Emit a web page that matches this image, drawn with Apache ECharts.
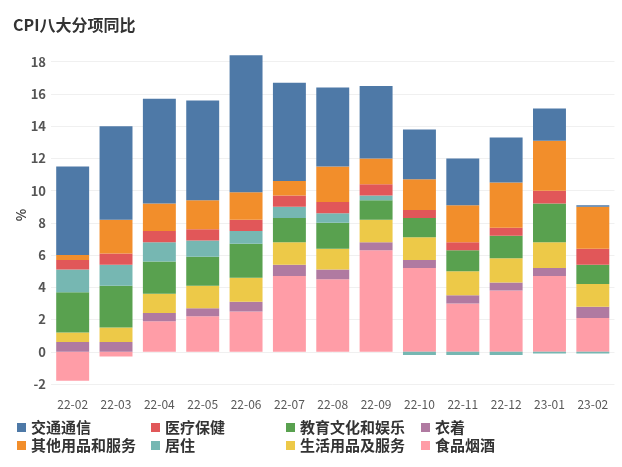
<!DOCTYPE html>
<html>
<head>
<meta charset="utf-8">
<script src="https://cdn.jsdelivr.net/npm/echarts@6/dist/echarts.min.js"></script>
<style>
html,body{margin:0;padding:0;background:#fff;}
#c{width:622px;height:467px;}
</style>
</head>
<body>
<div id="c"></div>
<script>
var months = ['22-02','22-03','22-04','22-05','22-06','22-07','22-08','22-09','22-10','22-11','22-12','23-01','23-02'];
var food      = [-1.8, -0.3, 1.9, 2.2, 2.5, 4.7, 4.5, 6.3, 5.2, 3.0, 3.8, 4.7, 2.1];
var clothing  = [0.6, 0.6, 0.5, 0.5, 0.6, 0.7, 0.6, 0.5, 0.5, 0.5, 0.5, 0.5, 0.7];
var household = [0.6, 0.9, 1.2, 1.4, 1.5, 1.4, 1.3, 1.4, 1.4, 1.5, 1.5, 1.6, 1.4];
var education = [2.5, 2.6, 2.0, 1.8, 2.1, 1.5, 1.6, 1.2, 1.2, 1.3, 1.4, 2.4, 1.2];
var housing   = [1.4, 1.3, 1.2, 1.0, 0.8, 0.7, 0.6, 0.3, -0.2, -0.2, -0.2, -0.1, -0.1];
var health    = [0.6, 0.7, 0.7, 0.7, 0.7, 0.7, 0.7, 0.7, 0.5, 0.5, 0.5, 0.8, 1.0];
var other     = [0.3, 2.1, 1.7, 1.8, 1.7, 0.9, 2.2, 1.6, 1.9, 2.3, 2.8, 3.1, 2.6];
var transport = [5.5, 5.8, 6.5, 6.2, 8.5, 6.1, 4.9, 4.5, 3.1, 2.9, 2.8, 2.0, 0.1];
var yTicks = [-2, 0, 2, 4, 6, 8, 10, 12, 14, 16, 18];

var seriesDefs = [
  {name:'食品烟酒', data:food, color:'#FF9DA7'},
  {name:'衣着', data:clothing, color:'#B07AA1'},
  {name:'生活用品及服务', data:household, color:'#EDC948'},
  {name:'教育文化和娱乐', data:education, color:'#59A14F'},
  {name:'居住', data:housing, color:'#76B7B2'},
  {name:'医疗保健', data:health, color:'#E15759'},
  {name:'其他用品和服务', data:other, color:'#F28E2B'},
  {name:'交通通信', data:transport, color:'#4E79A7'}
];

var FONT = '"Noto Sans CJK SC", "Noto Sans", sans-serif';
var chart = echarts.init(document.getElementById('c'), null, {renderer:'canvas'});

function legendCol(left, names){
  return {
    orient:'vertical', left:left, top:415, itemGap:3,
    icon:'rect', itemWidth:9, itemHeight:9,
    textStyle:{fontFamily:FONT, fontSize:15, fontWeight:'bold', color:'#333', padding:[0,0,0,0]},
    data:names
  };
}

chart.setOption({
  animation:false,
  backgroundColor:'#fff',
  title:{text:'CPI八大分项同比', left:8, top:12,
    textStyle:{fontFamily:FONT, fontSize:16, fontWeight:'bold', color:'#333'}},
  legend:[
    legendCol(12, ['交通通信','其他用品和服务']),
    legendCol(146, ['医疗保健','居住']),
    legendCol(281, ['教育文化和娱乐','生活用品及服务']),
    legendCol(416, ['衣着','食品烟酒'])
  ],
  graphic:[{
    type:'text', x:21, y:215, rotation:Math.PI/2,
    style:{text:'%', fontFamily:FONT, fontSize:13, fontWeight:'bold', fill:'#444',
      align:'center', verticalAlign:'middle'}
  }],
  grid:{left:51, right:7.5, top:45.6, bottom:83, containLabel:false},
  xAxis:{
    type:'category', data:months,
    axisLine:{show:false}, axisTick:{show:false},
    axisLabel:{margin:14, fontFamily:FONT, fontSize:12, color:'#595959'}
  },
  yAxis:{
    type:'value', min:-2, max:19, interval:2,
    axisLine:{show:false}, axisTick:{show:false},
    axisLabel:{showMaxLabel:false, margin:5, fontFamily:FONT, fontSize:13, fontWeight:'bold', color:'#555',
      formatter:function(v){ return yTicks.indexOf(v) >= 0 ? String(v) : ''; }},
    splitLine:{show:true, showMaxLine:false, lineStyle:{color:'#f0f0f0', width:1}}
  },
  series: seriesDefs.map(function(s){
    return {name:s.name, type:'bar', stack:'total', data:s.data,
      barCategoryGap:'24%', itemStyle:{color:s.color}};
  })
});
</script>
</body>
</html>
